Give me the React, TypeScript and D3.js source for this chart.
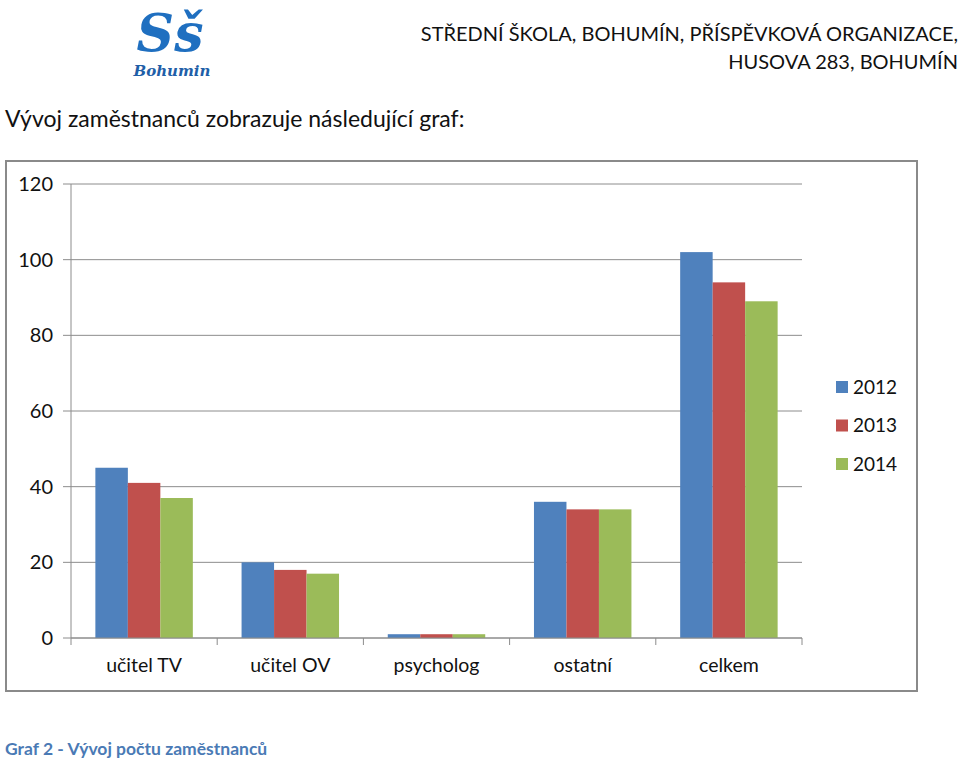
import React from "react";
import * as d3 from "d3";

const categories = ["učitel TV", "učitel OV", "psycholog", "ostatní", "celkem"];
const seriesNames = ["2012", "2013", "2014"];
const values2012 = [45, 20, 1, 36, 102];
const values2013 = [41, 18, 1, 34, 94];
const values2014 = [37, 17, 1, 34, 89];
const yTicks = [0, 20, 40, 60, 80, 100, 120];
const colors = ["#4F81BD", "#C0504D", "#9BBB59"];

const FONT = "Lato, 'Open Sans', 'Liberation Sans', sans-serif";

export default function App() {
  const series = [values2012, values2013, values2014];
  const left = 71, right = 802, top = 184, bottom = 638;
  const x = d3.scaleBand<string>().domain(categories).range([left, right]).paddingInner(0).paddingOuter(0);
  const xi = d3.scaleBand<string>().domain(seriesNames).range([0, x.bandwidth()]).paddingOuter(0.75).paddingInner(0);
  const y = d3.scaleLinear().domain([0, 120]).range([bottom, top]);
  const boundaries = d3.range(categories.length + 1).map((i) => left + i * x.step());

  return (
    <svg width={960} height={762} style={{ position: "absolute", left: 0, top: 0, background: "#fff" }} fontFamily={FONT}>
      {/* logo */}
      <g>
        <text x={170} y={51} textAnchor="middle" fontSize={52} fontStyle="italic" fontWeight={700} fill="#1f6fc0" fontFamily="'DejaVu Serif', serif">Sš</text>
        <text x={172} y={76} textAnchor="middle" fontSize={15} fontStyle="italic" fontWeight={700} fill="#1f5fa8" fontFamily="'DejaVu Serif', serif">Bohumin</text>
      </g>
      {/* header */}
      <text x={958} y={41} textAnchor="end" fontSize={20} fill="#111">STŘEDNÍ ŠKOLA, BOHUMÍN, PŘÍSPĚVKOVÁ ORGANIZACE,</text>
      <text x={958} y={69} textAnchor="end" fontSize={20} fill="#111">HUSOVA 283, BOHUMÍN</text>
      <text x={5} y={127} fontSize={23} fill="#111">Vývoj zaměstnanců zobrazuje následující graf:</text>

      {/* chart frame */}
      <rect x={6} y={161} width={911} height={530} fill="#fff" stroke="#8a8a8a" strokeWidth={2} />

      {/* grid and y axis */}
      {yTicks.map((t) => (
        <g key={t}>
          <line x1={left - 8} x2={right} y1={y(t)} y2={y(t)} stroke="#8c8c8c" strokeWidth={1} />
          <text x={53} y={y(t)} dy="0.35em" textAnchor="end" fontSize={20} fill="#111">{t}</text>
        </g>
      ))}
      <line x1={left} x2={left} y1={top} y2={bottom} stroke="#8c8c8c" strokeWidth={1} />

      {/* bars */}
      {series.map((vals, si) =>
        vals.map((v, ci) => (
          <rect
            key={`${si}-${ci}`}
            x={(x(categories[ci]) as number) + (xi(seriesNames[si]) as number)}
            y={y(v)}
            width={xi.bandwidth()}
            height={y(0) - y(v)}
            fill={colors[si]}
          />
        ))
      )}

      {/* x axis */}
      <line x1={left} x2={right} y1={bottom} y2={bottom} stroke="#8c8c8c" strokeWidth={1} />
      {boundaries.map((bx, i) => (
        <line key={i} x1={bx} x2={bx} y1={bottom} y2={bottom + 7} stroke="#8c8c8c" strokeWidth={1} />
      ))}
      {categories.map((c) => (
        <text key={c} x={(x(c) as number) + x.bandwidth() / 2} y={672} textAnchor="middle" fontSize={19.5} fill="#111">{c}</text>
      ))}

      {/* legend */}
      {seriesNames.map((s, i) => (
        <g key={s} transform={`translate(836, ${381 + i * 38.5})`}>
          <rect x={0} y={0} width={12} height={12} fill={colors[i]} />
          <text x={17} y={6} dy="0.35em" fontSize={19} fill="#111">{s}</text>
        </g>
      ))}

      {/* caption */}
      <text x={5} y={755} fontSize={17.5} fontWeight={700} fill="#4a7ab5">Graf 2 - Vývoj počtu zaměstnanců</text>
    </svg>
  );
}
